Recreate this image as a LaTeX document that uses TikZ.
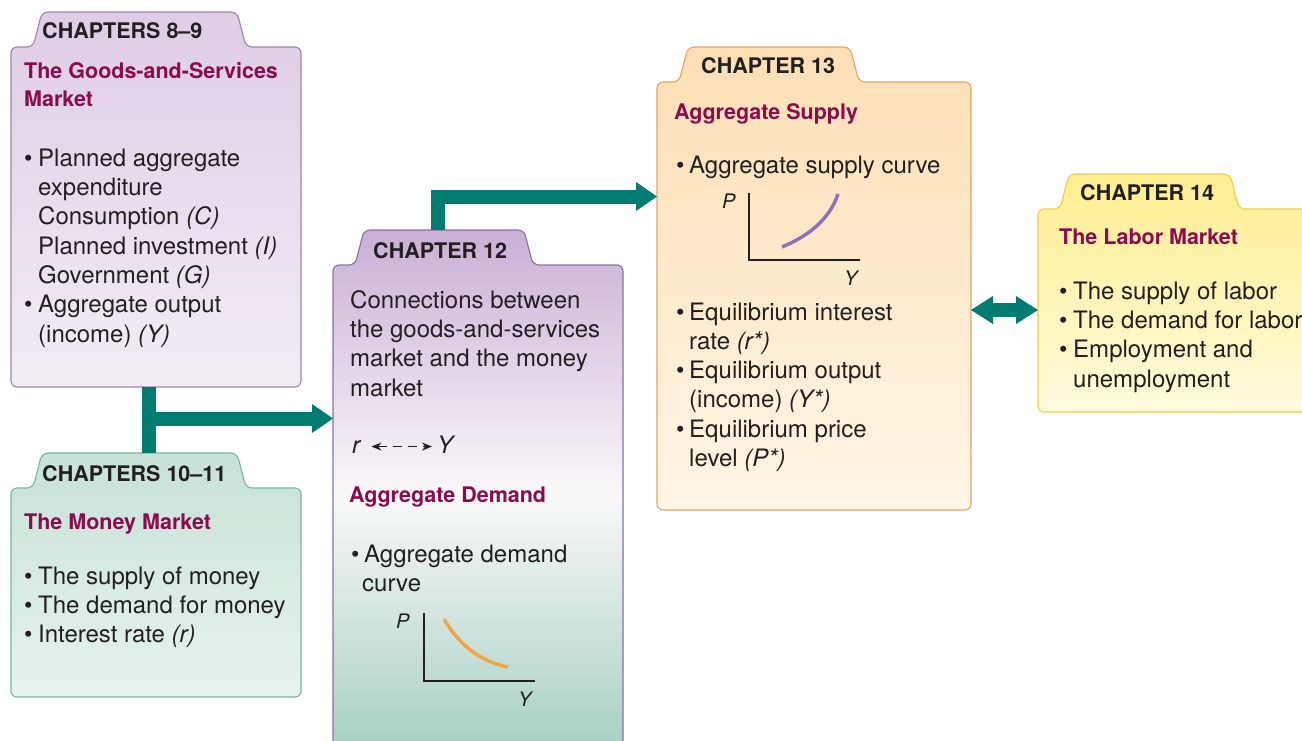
\documentclass[tikz,border=0pt]{standalone}
\usepackage{fontspec}
\setmainfont{TeX Gyre Heros}
\usetikzlibrary{arrows.meta}

\definecolor{ink}{HTML}{231F20}
\definecolor{maroon}{HTML}{8C0B50}
\definecolor{linkteal}{HTML}{007C70}
\definecolor{gsfill}{HTML}{DECDE5}
\definecolor{gsfade}{HTML}{F3EDF5}
\definecolor{gsline}{HTML}{9C86AC}
\definecolor{mmfill}{HTML}{C6E2D7}
\definecolor{mmfade}{HTML}{E8F3EE}
\definecolor{mmline}{HTML}{72B9A0}
\definecolor{lkfill}{HTML}{C9AFD4}
\definecolor{lkmid}{HTML}{FAF8FA}
\definecolor{lkfade}{HTML}{A3CEC1}
\definecolor{lkline}{HTML}{8A70A0}
\definecolor{asfill}{HTML}{FDDFB5}
\definecolor{asfade}{HTML}{FFF6E6}
\definecolor{asline}{HTML}{E2A466}
\definecolor{lmfill}{HTML}{FFEE90}
\definecolor{lmfade}{HTML}{FFFBDD}
\definecolor{lmline}{HTML}{EFCF45}
\definecolor{adcurve}{HTML}{F5A33F}
\definecolor{ascurve}{HTML}{8C72BA}

\newcommand{\bul}{\makebox[14pt][l]{\textbullet}}
\newcommand{\ind}{\hspace*{14pt}}

% folder: style, name, left, right, tab top, tab right, bottom
\newcommand{\chapfolder}[7]{%
  \draw[#1, line width=1.1pt, rounded corners=6pt]
    (#3,#7) -- (#3,#5+35) -- (#3+22,#5+35) -- (#3+31,#5) -- (#6,#5)
    -- (#6+9,#5+35) -- (#4,#5+35) -- (#4,#7) -- cycle;
  \coordinate (#2-nw) at (#3,#5+35);
  \coordinate (#2-se) at (#4,#7);
  \coordinate (#2-tab) at (#3+31,#5);
}

% multi-line nodes sit on the baseline of their last line
\tikzset{
  chaptab/.style={anchor=base west, inner sep=0pt,
    font=\fontsize{21.5}{26}\selectfont\bfseries, text=ink},
  chaptitle/.style={anchor=base west, inner sep=0pt, align=left,
    font=\fontsize{21.5}{28.5}\selectfont\bfseries, text=maroon},
  chaptext/.style={anchor=base west, inner sep=0pt, align=left,
    font=\fontsize{24}{29.3}\selectfont, text=ink},
  axislabel/.style={anchor=base west, inner sep=0pt,
    font=\fontsize{20}{24}\selectfont\itshape, text=ink},
  axisline/.style={draw=ink, line width=2.4pt},
  tealbar/.style={draw=linkteal, line width=14pt},
  tealarrow/.style={tealbar, -{Triangle[length=21pt, width=29pt, line width=0pt]}},
  tealboth/.style={tealbar, {Triangle[length=22pt, width=28pt, line width=0pt]}-{Triangle[length=22pt, width=28pt, line width=0pt]}},
  dashlink/.style={draw=ink, line width=1.3pt, dash pattern=on 9pt off 6pt,
    {Stealth[length=10pt, width=8pt]}-{Stealth[length=10pt, width=8pt]}},
}

\begin{document}
\begin{tikzpicture}[x=1pt, y=-1pt]
  \useasboundingbox (0,0) rectangle (1302,740);
  \clip (0,0) rectangle (1302,740);

  % the five chapter folders
  \chapfolder{draw=gsline, top color=gsfill, bottom color=gsfade}{goods}{11}{301}{12}{237}{387}
  \chapfolder{draw=mmline, top color=mmfill, bottom color=mmfade}{money}{11}{301}{453}{237}{697}
  \chapfolder{draw=lkline, top color=lkfill, bottom color=lkfade, middle color=lkmid}{link}{333}{623}{230}{524}{760}
  \chapfolder{draw=asline, top color=asfill, bottom color=asfade}{supply}{657}{971}{47}{850}{510}
  \chapfolder{draw=lmline, top color=lmfill, bottom color=lmfade}{labor}{1038}{1330}{174}{1230}{412}

  % chapters 8-9
  \node[chaptab] (goods-head) at (42,38) {CHAPTERS 8--9};
  \node[chaptitle] (goods-title) at (24,106.5) {The Goods-and-Services\\Market};
  \node[chaptext] (goods-list) at (24,342) {\bul Planned aggregate\\
    \ind expenditure\\
    \ind Consumption \textit{(C)}\\
    \ind Planned investment \textit{(I)}\\
    \ind Government \textit{(G)}\\
    \bul Aggregate output\\
    \ind (income) \textit{(Y)}};

  % chapters 10-11
  \node[chaptab] (money-head) at (42,481) {CHAPTERS 10--11};
  \node[chaptitle] (money-title) at (24,529) {The Money Market};
  \node[chaptext] (money-list) at (24,642.6) {\bul The supply of money\\
    \bul The demand for money\\
    \bul Interest rate \textit{(r)}};

  % chapter 12
  \node[chaptab] (link-head) at (373,258) {CHAPTER 12};
  \node[chaptext] (link-text) at (350,396) {Connections between\\
    the goods-and-services\\
    market and the money\\
    market};
  \node[chaptext, font=\fontsize{24}{29.3}\selectfont\itshape] (link-r) at (352,453) {r};
  \node[chaptext, font=\fontsize{24}{29.3}\selectfont\itshape] (link-y) at (437,453) {Y};
  \draw[dashlink] ([xshift=11pt]link-r.east |- link-r.center) -- ([xshift=-5pt]link-y.west |- link-r.center);
  \node[chaptitle] (link-title) at (349,502) {Aggregate Demand};
  \node[chaptext] (link-list) at (351,591.3) {\makebox[13pt][l]{\textbullet}Aggregate demand\\
    \hspace*{11pt}curve};
  \draw[axisline] (424,613) |- (535,681);
  \draw[adcurve, line width=3.4pt] (444,619) .. controls (458,643) and (478,661) .. (508,667);
  \node[axislabel] (ad-p) at (396,628) {P};
  \node[axislabel] (ad-y) at (518,706) {Y};

  % chapter 13
  \node[chaptab] (supply-head) at (701,73) {CHAPTER 13};
  \node[chaptitle] (supply-title) at (674,119) {Aggregate Supply};
  \node[chaptext] (supply-item) at (676,173) {\makebox[13pt][l]{\textbullet}Aggregate supply curve};
  \draw[axisline] (749,193) |- (860,260);
  \draw[ascurve, line width=3.4pt] (782,247) .. controls (806,237) and (829,221) .. (838,194);
  \node[axislabel] (as-p) at (722,208) {P};
  \node[axislabel] (as-y) at (844,285) {Y};
  \node[chaptext] (supply-list) at (676,466.5) {\makebox[13pt][l]{\textbullet}Equilibrium interest\\
    \hspace*{13pt}rate \textit{(r*)}\\
    \makebox[13pt][l]{\textbullet}Equilibrium output\\
    \hspace*{13pt}(income) \textit{(Y*)}\\
    \makebox[13pt][l]{\textbullet}Equilibrium price\\
    \hspace*{13pt}level \textit{(P*)}};

  % chapter 14
  \node[chaptab] (labor-head) at (1080,200) {CHAPTER 14};
  \node[chaptitle] (labor-title) at (1059,244) {The Labor Market};
  \node[chaptext] (labor-list) at (1059,387) {\bul The supply of labor\\
    \bul The demand for labor\\
    \bul Employment and\\
    \ind unemployment};

  % connectors
  \coordinate (split) at (148.5,418.5);
  \draw[tealbar] (split |- goods-se) -- (split |- money-tab);
  \draw[tealarrow] (split) -- (split -| link-nw);
  \coordinate (rise) at (438,196.5);
  \draw[tealarrow, line join=miter] (rise |- link-tab) |- (rise -| supply-nw);
  \coordinate (swap) at (1005,310);
  \draw[tealboth] (swap -| supply-se) -- (swap -| labor-nw);
\end{tikzpicture}
\end{document}
